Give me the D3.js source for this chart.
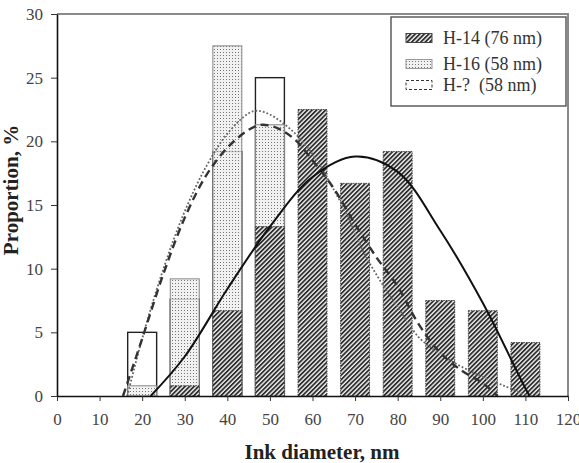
<!DOCTYPE html>
<html><head><meta charset="utf-8">
<script src="https://cdn.jsdelivr.net/npm/d3@7"></script>
<style>body{margin:0;background:#fff}svg{display:block}</style>
</head><body>
<svg id="c" width="579" height="463"></svg>
<script>
// ---- data ----
const xTicks = [0,10,20,30,40,50,60,70,80,90,100,110,120];
const yTicks = [0,5,10,15,20,25,30];
const h14Cats = [30,40,50,60,70,80,90,100,110];
const h14Vals = [0.8,6.7,13.3,22.5,16.7,19.2,7.5,6.7,4.2];
const h16Cats = [20,30,40,50];
const h16Vals = [0.8,9.2,27.5,21.3];
const hqCats = [20,30,40,50];
const hqVals = [5.0,7.6,19.2,25.0];
const fit14X = [22,30,40,50,60,70,80,90,100,110,111];
const fit14Y = [0,3.1,8.4,13.3,17.2,18.8,17.6,13.0,7.3,0.6,0];
const fit16X = [16.5,20,25,30,35,40,45,47,50,55,60,64,68,72,76,80,85,90,95,100,105,110];
const fit16Y = [0,4.5,10,14.5,18.0,20.6,22.2,22.4,22.1,20.9,19.0,16.8,14.3,11.3,9.0,7.0,4.6,3.3,2.3,1.5,0.8,0.1];
const fitQX = [15.5,20,25,30,35,40,45,48,52,56,60,65,70,75,80,85,90,95,100,103.5];
const fitQY = [0,4.5,9.6,14.0,17.3,19.5,20.9,21.3,21.0,20.1,18.5,16.3,13.5,10.9,8.6,5.6,3.4,2.0,1.0,0];
const legendLabels = ["H-14 (76 nm)","H-16 (58 nm)","H-?  (58 nm)"];

// ---- chart ----
const svg = d3.select("#c");
const x = d3.scaleLinear().domain([0,120]).range([57,568]);
const y = d3.scaleLinear().domain([0,30]).range([396,14]);
const halfW = 3.4;

const defs = svg.append("defs");
const hatch = defs.append("pattern").attr("id","hatch").attr("patternUnits","userSpaceOnUse")
  .attr("width",3.2).attr("height",3.2).attr("patternTransform","rotate(45)");
hatch.append("rect").attr("width",3.2).attr("height",3.2).attr("fill","#f2f2f2");
hatch.append("rect").attr("width",1.8).attr("height",3.2).attr("fill","#2e2e2e");
const dots = defs.append("pattern").attr("id","dots").attr("patternUnits","userSpaceOnUse")
  .attr("width",3).attr("height",3);
dots.append("rect").attr("width",3).attr("height",3).attr("fill","#ededed").attr("fill-opacity",0.8);
dots.append("rect").attr("x",1).attr("y",1).attr("width",1).attr("height",1).attr("fill","#777");

// plot frame (top/right gray)
svg.append("path").attr("d",`M${x(0)},${y(30)}H${x(120)}V${y(0)}`)
  .attr("fill","none").attr("stroke","#8a8a8a").attr("stroke-width",2);

// H-? bars (open)
svg.append("g").selectAll("rect").data(hqCats).join("rect")
  .attr("x",d=>x(d-halfW)).attr("width",d=>x(d+halfW)-x(d-halfW))
  .attr("y",(d,i)=>y(hqVals[i])).attr("height",(d,i)=>y(0)-y(hqVals[i]))
  .attr("fill","#fff").attr("stroke","#222").attr("stroke-width",1.4);
// H-16 bars (dotted)
svg.append("g").selectAll("rect").data(h16Cats).join("rect")
  .attr("x",d=>x(d-halfW)).attr("width",d=>x(d+halfW)-x(d-halfW))
  .attr("y",(d,i)=>y(h16Vals[i])).attr("height",(d,i)=>y(0)-y(h16Vals[i]))
  .attr("fill","url(#dots)").attr("stroke","#888").attr("stroke-width",1);
// H-14 bars (hatched)
svg.append("g").selectAll("rect").data(h14Cats).join("rect")
  .attr("x",d=>x(d-halfW)).attr("width",d=>x(d+halfW)-x(d-halfW))
  .attr("y",(d,i)=>y(h14Vals[i])).attr("height",(d,i)=>y(0)-y(h14Vals[i]))
  .attr("fill","url(#hatch)").attr("stroke","#444").attr("stroke-width",1).attr("stroke-dasharray","1.5,1");

// fitted curves
const line = d3.line().x(d=>x(d[0])).y(d=>y(d[1])).curve(d3.curveCatmullRom);
svg.append("path").attr("d",line(fit16X.map((v,i)=>[v,fit16Y[i]])))
  .attr("fill","none").attr("stroke","#666").attr("stroke-width",1.8).attr("stroke-dasharray","1.8,2");
svg.append("path").attr("d",line(fitQX.map((v,i)=>[v,fitQY[i]])))
  .attr("fill","none").attr("stroke","#333").attr("stroke-width",2.4).attr("stroke-dasharray","8,5");
svg.append("path").attr("d",line(fit14X.map((v,i)=>[v,fit14Y[i]])))
  .attr("fill","none").attr("stroke","#111").attr("stroke-width",2);

// axes
const font = "'Liberation Serif','Times New Roman',serif";
const xa = svg.append("g").attr("transform",`translate(0,${y(0)})`)
  .call(d3.axisBottom(x).tickValues(xTicks).tickSize(5).tickPadding(12).tickSizeOuter(0));
const ya = svg.append("g").attr("transform",`translate(${x(0)},0)`)
  .call(d3.axisLeft(y).tickValues(yTicks).tickSize(6).tickPadding(8).tickSizeOuter(0));
[xa,ya].forEach(g=>{
  g.select(".domain").attr("stroke","#111").attr("stroke-width",1.6);
  g.selectAll(".tick line").attr("stroke","#333").attr("stroke-width",1);
  g.selectAll("text").attr("font-family",font).attr("font-size",17).attr("fill","#444");
});

// titles
svg.append("text").attr("x",322).attr("y",459).attr("text-anchor","middle")
  .attr("font-family",font).attr("font-size",21).attr("font-weight","bold").attr("fill","#222")
  .text("Ink diameter, nm");
svg.append("text").attr("transform","translate(18,190) rotate(-90)").attr("text-anchor","middle")
  .attr("font-family",font).attr("font-size",21).attr("font-weight","bold").attr("fill","#222")
  .text("Proportion, %");

// legend
const lg = svg.append("g");
lg.append("rect").attr("x",391).attr("y",17).attr("width",175).attr("height",89)
  .attr("fill","#fff").attr("stroke","#444").attr("stroke-width",1.3);
const sw = [{fill:"url(#hatch)",stroke:"#444",dash:null},{fill:"url(#dots)",stroke:"#999",dash:null},{fill:"#fff",stroke:"#333",dash:"3,2"}];
const rowY = [38,64,85];
legendLabels.forEach((t,i)=>{
  lg.append("rect").attr("x",406).attr("y",rowY[i]-4.5).attr("width",26).attr("height",9)
    .attr("fill",sw[i].fill).attr("stroke",sw[i].stroke).attr("stroke-width",1)
    .attr("stroke-dasharray",sw[i].dash);
  lg.append("text").attr("x",443).attr("y",rowY[i]+6).attr("font-family",font).attr("font-size",18)
    .attr("fill","#333").attr("xml:space","preserve").style("white-space","pre").text(t);
});
</script>
</body></html>
